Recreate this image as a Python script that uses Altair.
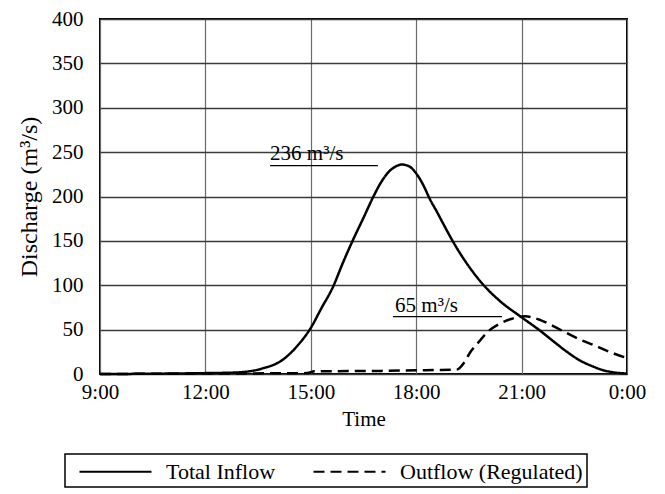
import altair as alt
import pandas as pd

# Total inflow hydrograph (hour of day, m3/s)
inflow_hours = [9.0, 10.5, 12.0, 12.5, 13.0, 13.6, 14.2, 14.6, 15.0, 15.3, 15.63, 15.9, 16.2, 16.5,
                16.77, 17.0, 17.2, 17.4, 17.6, 17.8, 18.0, 18.2, 18.39, 18.6, 18.76, 19.05, 19.45,
                19.9, 20.39, 20.96, 21.52, 21.9, 22.29, 22.65, 23.03, 23.3, 23.6, 24.0]
inflow_vals = [0, 0.3, 1, 1.3, 2, 6, 16, 31, 52, 74, 98, 124, 151, 176,
               199, 216, 227, 233.5, 236, 234, 226, 213, 197, 182, 170, 149, 124,
               101, 82, 65, 49, 37, 25, 15.5, 8.5, 4.5, 2, 0.5]

# Regulated outflow (hour of day, m3/s)
outflow_hours = [9.0, 12.0, 14.9, 15.1, 17.0, 18.5, 19.16, 19.35, 19.53, 19.8, 20.02, 20.39,
                 20.7, 21.1, 21.52, 21.9, 22.29, 22.65, 23.03, 23.5, 24.0]
outflow_vals = [0, 0.5, 1, 3, 3.5, 4.5, 5, 12, 24, 37, 47, 57,
                62, 65, 61, 54, 46, 39, 33, 25, 18]

series_names = ["Total Inflow", "Outflow (Regulated)"]
x_ticks = [9, 12, 15, 18, 21, 24]
y_ticks = [0, 50, 100, 150, 200, 250, 300, 350, 400]

# annotations
ann_labels = ["236 m³/s", "65 m³/s"]
ann_x = [13.84, 17.40]
ann_line_x = [13.84, 17.34]
ann_line_x2 = [16.91, 20.44]
ann_line_y = [234.7, 64.6]
ann_text_y = [241, 70]

df = pd.concat([
    pd.DataFrame({"hour": inflow_hours, "q": inflow_vals, "series": series_names[0]}),
    pd.DataFrame({"hour": outflow_hours, "q": outflow_vals, "series": series_names[1]}),
])
ann = pd.DataFrame({"label": ann_labels, "tx": ann_x, "x": ann_line_x, "x2": ann_line_x2,
                    "ly": ann_line_y, "ty": ann_text_y})

FONT = "'Liberation Serif', 'Times New Roman', Times, serif"
FS = 21
xscale = alt.Scale(domain=[9, 24], nice=False, zero=False)
yscale = alt.Scale(domain=[0, 400], nice=False)

lines = alt.Chart(df).mark_line(color="black", strokeWidth=2.5, interpolate="monotone").encode(
    x=alt.X("hour:Q", scale=xscale, title="Time",
            axis=alt.Axis(values=x_ticks, grid=True, gridColor="#6a6a6a", gridWidth=1.2,
                          ticks=False, domain=False,
                          labelExpr="datum.value == 24 ? '0:00' : datum.value + ':00'",
                          labelFont=FONT, labelFontSize=FS, labelColor="black", labelPadding=7,
                          labelFlush=False,
                          titleFont=FONT, titleFontSize=FS, titleFontWeight="normal",
                          titleColor="black", titlePadding=6)),
    y=alt.Y("q:Q", scale=yscale, title="Discharge (m³/s)",
            axis=alt.Axis(values=y_ticks, grid=True, gridColor="#3a3a3a",
                          gridWidth=1.4, ticks=False, domain=False,
                          labelFont=FONT, labelFontSize=FS, labelColor="black", labelPadding=17,
                          labelFlush=False,
                          titleFont=FONT, titleFontSize=24, titleFontWeight="normal",
                          titleColor="black", titlePadding=10)),
    strokeDash=alt.StrokeDash("series:N", scale=alt.Scale(domain=series_names, range=[[1, 0], [11, 6]]),
                              legend=alt.Legend(title=None, orient="none", legendX=-35, legendY=435,
                                                direction="horizontal", labelLimit=400,
                                                labelExpr="datum.label == 'Outflow (Regulated)' ? datum.label + '\u00a0\u00a0\u00a0' : datum.label")),
)

ann_lines = alt.Chart(ann).mark_rule(color="black", strokeWidth=1.3).encode(
    x=alt.X("x:Q", scale=xscale), x2="x2:Q", y=alt.Y("ly:Q", scale=yscale)
)
ann_text = alt.Chart(ann).mark_text(align="left", baseline="alphabetic", font=FONT, fontSize=FS,
                                    color="black").encode(
    x=alt.X("tx:Q", scale=xscale), y=alt.Y("ty:Q", scale=yscale), text="label:N"
)

chart = alt.layer(lines, ann_lines, ann_text).properties(
    width=527, height=355,
    autosize=alt.AutoSizeParams(type="none"),
    padding={"left": 92, "top": 11, "right": 30, "bottom": 115},
).configure_view(
    stroke="black", strokeWidth=2
).configure_legend(
    strokeColor="black", fillColor="white", padding=4, cornerRadius=0, strokeWidth=1.5,
    labelFont=FONT, labelFontSize=22, labelColor="black", labelLimit=400,
    symbolType="M-3,0H3", symbolSize=576, symbolStrokeWidth=2.2, symbolStrokeColor="black",
    symbolOffset=33, columnPadding=27, labelOffset=37
)

chart.save("out.html", embed_options={"renderer": "svg", "actions": False})
